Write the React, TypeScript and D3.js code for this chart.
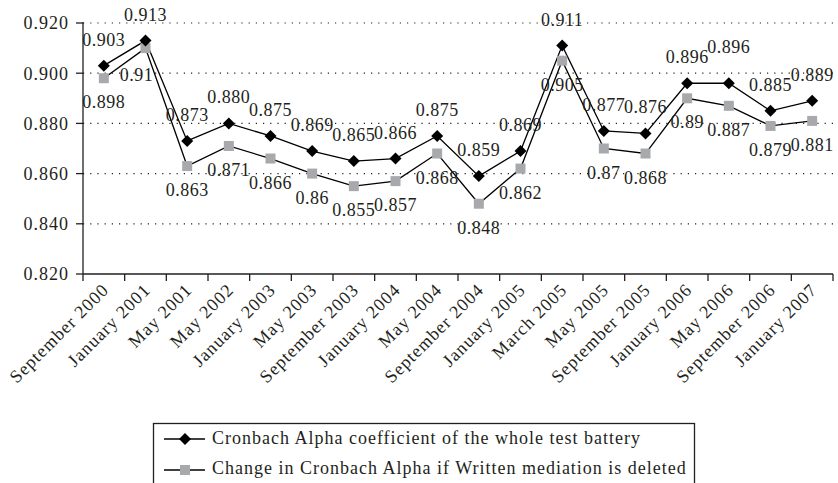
import React from "react";
import * as d3 from "d3";

const categories = [
  "September 2000", "January 2001", "May 2001", "May 2002", "January 2003", "May 2003",
  "September 2003", "January 2004", "May 2004", "September 2004", "January 2005", "March 2005",
  "May 2005", "September 2005", "January 2006", "May 2006", "September 2006", "January 2007",
];
const alphaWhole = [0.903, 0.913, 0.873, 0.880, 0.875, 0.869, 0.865, 0.866, 0.875, 0.859, 0.869, 0.911, 0.877, 0.876, 0.896, 0.896, 0.885, 0.889];
const alphaWhole_labels = ["0.903", "0.913", "0.873", "0.880", "0.875", "0.869", "0.865", "0.866", "0.875", "0.859", "0.869", "0.911", "0.877", "0.876", "0.896", "0.896", "0.885", "0.889"];
const alphaDeleted = [0.898, 0.91, 0.863, 0.871, 0.866, 0.86, 0.855, 0.857, 0.868, 0.848, 0.862, 0.905, 0.87, 0.868, 0.89, 0.887, 0.879, 0.881];
const alphaDeleted_labels = ["0.898", "0.91", "0.863", "0.871", "0.866", "0.86", "0.855", "0.857", "0.868", "0.848", "0.862", "0.905", "0.87", "0.868", "0.89", "0.887", "0.879", "0.881"];
const yTicks = [0.82, 0.84, 0.86, 0.88, 0.9, 0.92];
const seriesNames = [
  "Cronbach Alpha coefficient of the whole test battery",
  "Change in Cronbach Alpha if Written mediation is deleted",
];

const W = 838, H = 483;
const FONT = "Liberation Serif";
const TXT = "#231f20";

export default function App() {
  const left = 83, right = 833, top = 23, bottom = 274;
  const x = d3.scaleBand<string>().domain(categories).range([left, right]).paddingInner(0).paddingOuter(0);
  const y = d3.scaleLinear().domain([0.82, 0.92]).range([bottom, top]);
  const cx = (i: number) => (x(categories[i]) as number) + x.bandwidth() / 2;
  const line = d3.line<number>().x((_, i) => cx(i)).y((d) => y(d));

  const diamond = (px: number, py: number, r = 6) =>
    `M${px},${py - r}L${px + r},${py}L${px},${py + r}L${px - r},${py}Z`;
  const sq = 10;

  const nudge1: Record<number, [number, number]> = { 15: [0, -10] };
  const nudge2: Record<number, [number, number]> = { 1: [-9, 3] };

  const boundaries = d3.range(categories.length + 1).map((i) => left + i * x.bandwidth());
  const ts: React.CSSProperties = { fontFamily: FONT, letterSpacing: "1px" };
  const ls: React.CSSProperties = { fontFamily: FONT, letterSpacing: "0.5px" };

  return (
    <svg width={W} height={H} style={{ position: "absolute", left: 0, top: 0, background: "#fff", fontFamily: FONT }}>
      <rect x={0} y={0} width={W} height={H} fill="#fff" />
      {yTicks.filter((t) => t > 0.82).map((t) => (
        <line key={t} x1={left} x2={right} y1={y(t)} y2={y(t)} stroke="#231f20" strokeWidth={1.2} strokeDasharray="1.2,6" />
      ))}
      <line x1={left} x2={left} y1={top - 1} y2={bottom} stroke="#231f20" strokeWidth={1.3} />
      <line x1={left} x2={right} y1={bottom} y2={bottom} stroke="#231f20" strokeWidth={1.3} />
      {yTicks.map((t) => (
        <g key={t}>
          <line x1={left - 7} x2={left} y1={y(t)} y2={y(t)} stroke="#231f20" strokeWidth={1.3} />
          <text style={ts} x={left - 14} y={y(t)} dy="0.35em" textAnchor="end" fontSize={18} fill={TXT}>
            {t.toFixed(3)}
          </text>
        </g>
      ))}
      {boundaries.map((bx, i) => (
        <line key={i} x1={bx} x2={bx} y1={bottom} y2={bottom + 7} stroke="#231f20" strokeWidth={1.3} />
      ))}
      {categories.map((c, i) => (
        <text style={ts} key={c} transform={`translate(${cx(i) + 6},${bottom + 17}) rotate(-45)`} textAnchor="end" fontSize={18} fill={TXT}>
          {c}
        </text>
      ))}
      <path d={line(alphaDeleted) as string} fill="none" stroke="#000" strokeWidth={1.3} />
      <path d={line(alphaWhole) as string} fill="none" stroke="#000" strokeWidth={1.3} />
      {alphaDeleted.map((v, i) => (
        <rect key={i} x={cx(i) - sq / 2} y={y(v) - sq / 2} width={sq} height={sq} fill="#a7a9ac" />
      ))}
      {alphaWhole.map((v, i) => (
        <path key={i} d={diamond(cx(i), y(v))} fill="#000" />
      ))}
      {alphaWhole.map((v, i) => {
        const [dx, dy] = nudge1[i] || [0, 0];
        return (
          <text style={ls} key={i} x={cx(i) + dx} y={y(v) - 20 + dy} textAnchor="middle" fontSize={18} fill={TXT}>
            {alphaWhole_labels[i]}
          </text>
        );
      })}
      {alphaDeleted.map((v, i) => {
        const [dx, dy] = nudge2[i] || [0, 0];
        return (
          <text style={ls} key={i} x={cx(i) + dx} y={y(v) + 30 + dy} textAnchor="middle" fontSize={18} fill={TXT}>
            {alphaDeleted_labels[i]}
          </text>
        );
      })}
      <rect x={153.5} y={423.5} width={541} height={70} fill="none" stroke="#231f20" strokeWidth={1.3} />
      <g>
        <line x1={164} x2={205} y1={439} y2={439} stroke="#000" strokeWidth={1.3} />
        <path d={diamond(185, 439)} fill="#000" />
        <text style={ts} x={212} y={444} fontSize={18} fill={TXT}>{seriesNames[0]}</text>
        <line x1={164} x2={205} y1={470} y2={470} stroke="#000" strokeWidth={1.3} />
        <rect x={185 - sq / 2} y={470 - sq / 2} width={sq} height={sq} fill="#a7a9ac" />
        <text style={ts} x={212} y={474} fontSize={18} fill={TXT}>{seriesNames[1]}</text>
      </g>
    </svg>
  );
}
